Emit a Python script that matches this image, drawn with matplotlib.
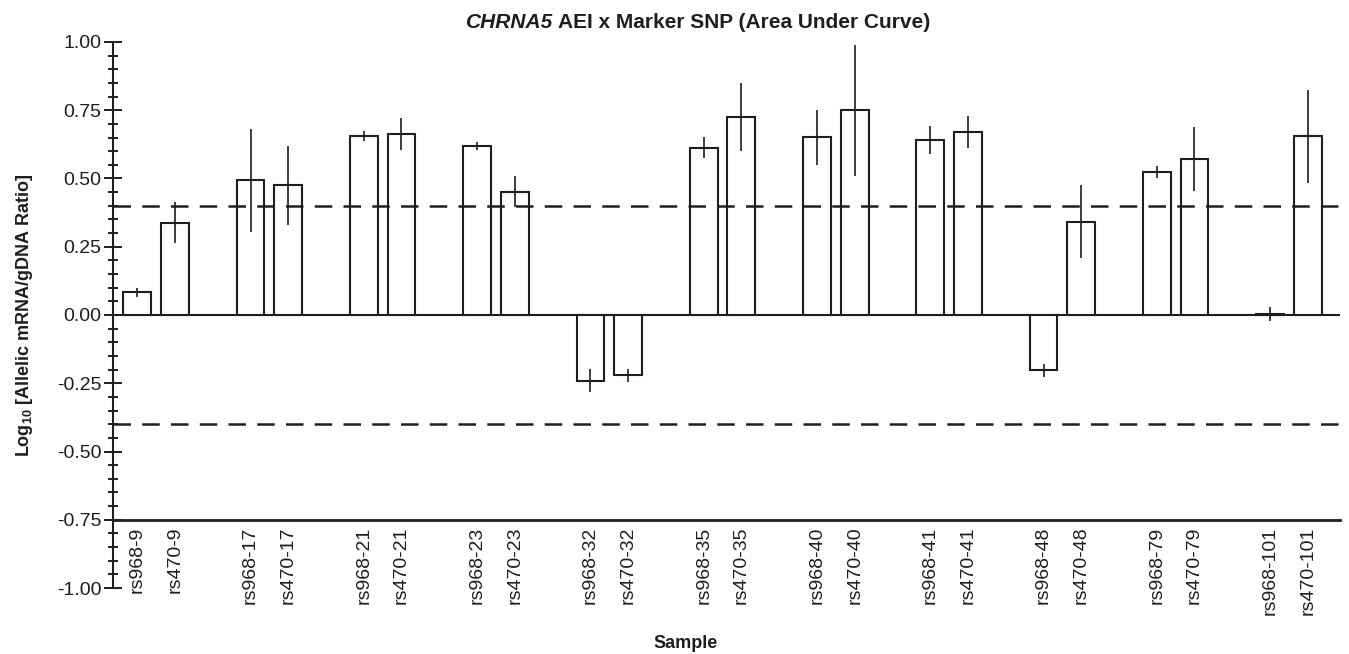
import matplotlib.pyplot as plt
import numpy as np

plt.rcParams['font.family'] = ['Liberation Sans', 'DejaVu Sans']
plt.rcParams['mathtext.fontset'] = 'custom'
plt.rcParams['mathtext.rm'] = 'Liberation Sans'
plt.rcParams['mathtext.bf'] = 'Liberation Sans:bold'

# ---------- DATA ----------
samples = ["9", "17", "21", "23", "32", "35", "40", "41", "48", "79", "101"]
rs968_vals = [0.083, 0.493, 0.657, 0.619, -0.240, 0.613, 0.651, 0.641, -0.203, 0.524, 0.003]
rs968_errs = [0.017, 0.190, 0.018, 0.015, 0.042, 0.038, 0.100, 0.050, 0.025, 0.023, 0.026]
rs470_vals = [0.338, 0.475, 0.663, 0.452, -0.221, 0.725, 0.750, 0.670, 0.341, 0.571, 0.654]
rs470_errs = [0.075, 0.145, 0.060, 0.057, 0.023, 0.125, 0.240, 0.059, 0.134, 0.118, 0.170]
threshold = 0.40

INK = "#1e1e1e"

# ---------- PLOT ----------
fig = plt.figure(figsize=(13.49, 6.54), dpi=100)
ax = fig.add_axes([0.0838, 0.1009, 0.9095, 0.8349])

# spines first (moving a spine rebuilds the tick labels)
ax.spines["top"].set_visible(False)
ax.spines["right"].set_visible(False)
ax.spines["left"].set_linewidth(1.5)
ax.spines["left"].set_color(INK)
ax.spines["bottom"].set_position(("data", -0.75))
ax.spines["bottom"].set_linewidth(2)
ax.spines["bottom"].set_color(INK)

x = np.arange(len(samples))
off = 0.166
w = 0.245

for pos, vals, errs in [(x - off, rs968_vals, rs968_errs), (x + off, rs470_vals, rs470_errs)]:
    ax.bar(pos, vals, width=w, color="white", edgecolor=INK, linewidth=1.5, zorder=3)
    ax.errorbar(pos, vals, yerr=errs, fmt="none", ecolor=INK, elinewidth=1.2,
                capsize=0, zorder=4)

ax.axhline(0, color=INK, linewidth=1.5, zorder=2)
for t in (threshold, -threshold):
    ax.axhline(t, color=INK, linewidth=1.8, dashes=(7, 4.5), zorder=5)

ax.set_xlim(-0.38, 10.45)
ax.set_ylim(-1.0, 1.0)

# x labels
xt = np.concatenate([x - off, x + off])
xl = ["rs968-" + s for s in samples] + ["rs470-" + s for s in samples]
ax.set_xticks(xt)
ax.set_xticklabels(xl, fontsize=14, color=INK)
ax.tick_params(axis="x", length=0, pad=5, labelrotation=90)
for lab in ax.get_xticklabels():
    lab.set_va("top")
    lab.set_ha("center")

# y axis
yt = np.arange(-1.0, 1.01, 0.25)
ax.set_yticks(yt)
ax.set_yticklabels([f"{v:.2f}" for v in yt])
ax.set_yticks(np.arange(-1.0, 1.01, 0.05), minor=True)
ax.tick_params(axis="y", which="major", direction="inout", length=13, width=1.4,
               labelsize=14, colors=INK, pad=2)
ax.tick_params(axis="y", which="minor", direction="inout", length=7, width=1.4, colors=INK)

ax.set_ylabel(r"Log$_{\mathbf{10}}$ [Allelic mRNA/gDNA Ratio]", fontsize=13,
              fontweight="bold", color=INK, labelpad=16)
fig.text(686 / 1349, 1 - 643 / 654, "Sample", fontsize=13, fontweight="bold",
         color=INK, ha="center", va="center")

# title: italic gene name + bold rest, centred together
ty = 1 - 22 / 654
t1 = fig.text(0, ty, "CHRNA5", fontsize=15, fontweight="bold",
              fontstyle="italic", color=INK, ha="left", va="center")
t2 = fig.text(0, ty, " AEI x Marker SNP (Area Under Curve)", fontsize=15,
              fontweight="bold", color=INK, ha="left", va="center")
r = fig.canvas.get_renderer()
w1 = t1.get_window_extent(r).width
w2 = t2.get_window_extent(r).width
x0 = 698 - (w1 + w2) / 2
t1.set_x(x0 / 1349)
t2.set_x((x0 + w1) / 1349)

fig.savefig("out.png", dpi=100)
